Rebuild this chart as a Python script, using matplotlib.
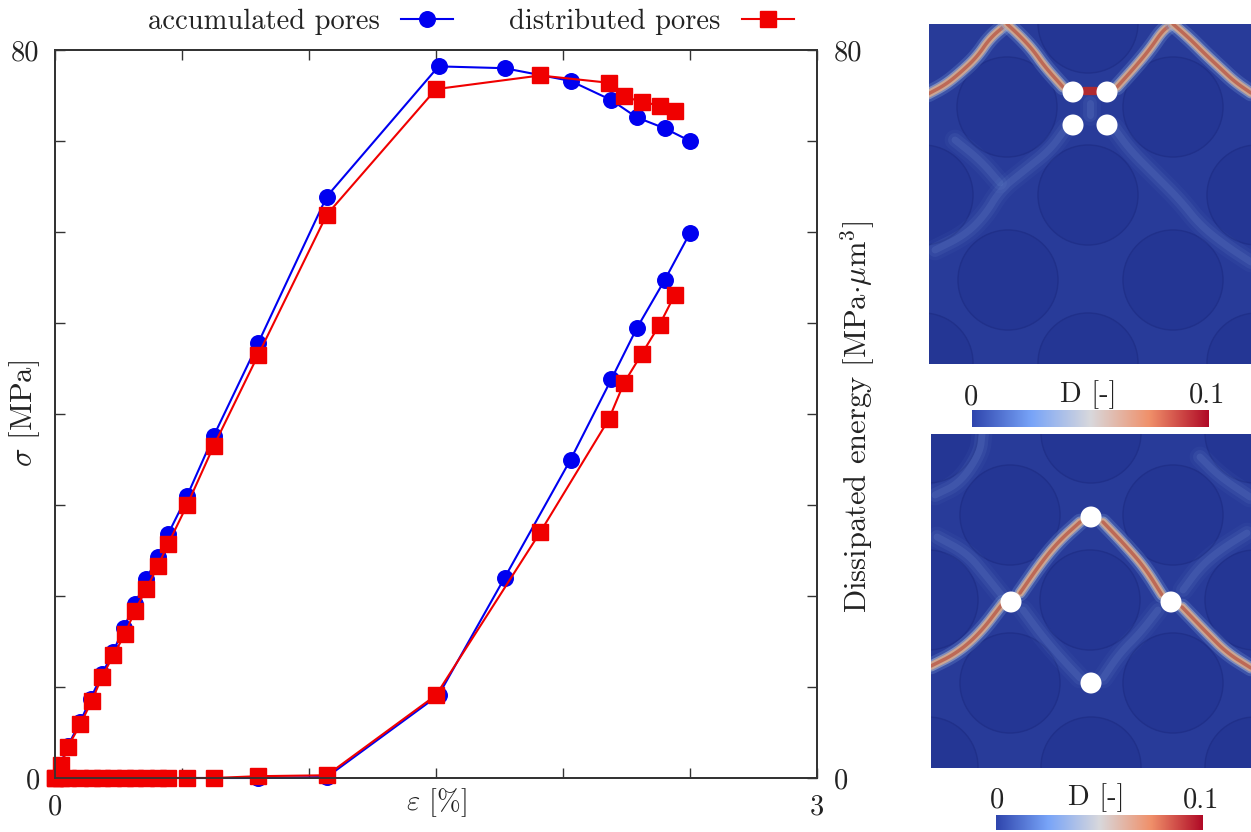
#!/usr/bin/env python3
"""Stress-strain and dissipated energy curves with two damage field maps."""

import matplotlib
matplotlib.use('Agg')
import matplotlib.pyplot as plt
import numpy as np
from matplotlib.colors import LinearSegmentedColormap
from matplotlib.patches import Circle

plt.rcParams['font.family'] = ['cmr10', 'DejaVu Serif']
plt.rcParams['mathtext.fontset'] = 'cm'
plt.rcParams['axes.unicode_minus'] = False
plt.rcParams['axes.formatter.use_mathtext'] = True

# stress curves, strain in %, stress in MPa
strain_acc = [0.0, 0.05, 0.10, 0.14, 0.185, 0.23, 0.27, 0.315, 0.36, 0.405, 0.445,
              0.52, 0.625, 0.80, 1.07, 1.51, 1.77, 2.03, 2.19, 2.29, 2.40, 2.50]
stress_acc = [0.0, 3.5, 6.2, 8.7, 11.4, 13.9, 16.5, 19.1, 21.9, 24.3, 26.8,
              31.0, 37.6, 47.8, 63.9, 78.2, 78.0, 76.6, 74.5, 72.6, 71.4, 70.0]
strain_dis = [0.0, 0.025, 0.05, 0.10, 0.145, 0.185, 0.23, 0.275, 0.315, 0.36, 0.405, 0.445,
              0.52, 0.625, 0.80, 1.07, 1.50, 1.91, 2.18, 2.24, 2.31, 2.38, 2.44]
stress_dis = [0.0, 1.4, 3.4, 5.9, 8.5, 11.1, 13.5, 15.8, 18.4, 20.8, 23.3, 25.7,
              30.0, 36.5, 46.5, 61.9, 75.7, 77.2, 76.4, 74.9, 74.3, 73.9, 73.3]

# dissipated energy curves
energy_strain_acc = [0.0, 0.05, 0.10, 0.14, 0.185, 0.23, 0.27, 0.315, 0.36, 0.405, 0.445,
                     0.52, 0.625, 0.80, 1.07, 1.51, 1.77, 2.03, 2.19, 2.29, 2.40, 2.50]
energy_acc = [0.0, 0.0, 0.0, 0.0, 0.0, 0.0, 0.0, 0.0, 0.0, 0.0, 0.0,
              0.0, 0.0, 0.0, 0.1, 9.1, 22.0, 35.0, 43.8, 49.4, 54.7, 59.9]
energy_strain_dis = [0.0, 0.025, 0.05, 0.10, 0.145, 0.185, 0.23, 0.275, 0.315, 0.36, 0.405, 0.445,
                     0.52, 0.625, 0.80, 1.07, 1.50, 1.91, 2.18, 2.24, 2.31, 2.38, 2.44]
energy_dis = [0.0, 0.0, 0.0, 0.0, 0.0, 0.0, 0.0, 0.0, 0.0, 0.0, 0.0, 0.0,
              0.0, 0.0, 0.2, 0.3, 9.1, 27.0, 39.4, 43.4, 46.6, 49.8, 53.1]

x_ticks = [0, 0.5, 1, 1.5, 2, 2.5, 3]
x_labels = ['0', '', '', '', '', '', '3']
y_ticks = [0, 10, 20, 30, 40, 50, 60, 70, 80]
y_labels = ['0', '', '', '', '', '', '', '', '80']

# damage maps are traced in figure pixels
top_grains = [(1007, 107), (1088, 195), (1173, 107), (1008, 280), (1173, 280), (923, 195),
              (1257, 195), (1088, 23), (1088, 363), (923, 363), (1257, 363)]
top_pores = [(1073, 92), (1107, 92), (1073, 125), (1107, 125)]
top_cracks = [
    [(928, 94), (945, 85), (960, 73), (977, 57), (990, 38), (1007, 24)],
    [(1007, 24), (1020, 36), (1033, 50), (1045, 67), (1063, 87)],
    [(1117, 87), (1135, 67), (1150, 49), (1163, 30), (1173, 24)],
    [(1173, 24), (1190, 39), (1205, 54), (1220, 68), (1235, 82), (1251, 93)],
]
top_gap = [(1084, 91), (1096, 91)]
top_bands = [
    [(1066, 128), (1050, 150), (1025, 170), (1000, 190), (985, 215), (965, 235), (935, 250)],
    [(1114, 128), (1130, 150), (1155, 175), (1180, 200), (1200, 225), (1225, 245), (1251, 262)],
    [(955, 140), (980, 160), (1000, 183)],
    [(1090, 115), (1090, 103)],
]
bot_grains = [(1010, 515), (1090, 600), (1173, 515), (1010, 683), (1173, 683), (928, 600), (1255, 600),
              (1091, 433), (1091, 767), (928, 767), (1255, 767), (928, 433), (1255, 433)]
bot_pores = [(1091, 517), (1011, 602), (1171, 602), (1091, 683)]
bot_cracks = [
    [(931, 666), (957, 653), (980, 633), (1003, 603)],
    [(1020, 593), (1043, 560), (1060, 540), (1080, 522)],
    [(1103, 522), (1125, 545), (1145, 568), (1162, 595)],
    [(1182, 607), (1207, 633), (1227, 653), (1251, 668)],
]
bot_bands = [
    [(1023, 610), (1043, 637), (1063, 660), (1080, 678)],
    [(1103, 678), (1120, 653), (1140, 633), (1158, 610)],
    [(937, 537), (967, 553), (987, 577), (1003, 597)],
    [(1183, 590), (1200, 567), (1220, 550), (1247, 533)],
    [(935, 495), (960, 483), (980, 453), (982, 434)],
    [(1200, 457), (1220, 477), (1250, 497)],
]

BLUE = '#0000f0'
RED = '#f00000'
GRAIN = '#243694'
MATRIX = '#283b99'
FIELD_CMAP = LinearSegmentedColormap.from_list(
    'damage', ['#2f45ad', '#78a4f8', '#d8d8dc', '#f0906a', '#b00a26'])


def px_axes(fig, x0, y0, x1, y1):
    """Axes whose data coordinates are the figure's pixels."""
    w, h = fig.canvas.get_width_height()
    ax = fig.add_axes([x0 / w, 1 - y1 / h, (x1 - x0) / w, (y1 - y0) / h])
    ax.set_xlim(x0, x1)
    ax.set_ylim(y1, y0)
    ax.axis('off')
    return ax


def smooth(path, rounds=3):
    """Corner cutting so traced polylines read as curves."""
    pts = np.array(path, dtype=float)
    for _ in range(rounds):
        a = 0.75 * pts[:-1] + 0.25 * pts[1:]
        b = 0.25 * pts[:-1] + 0.75 * pts[1:]
        mid = np.empty((a.shape[0] * 2, 2))
        mid[0::2] = a
        mid[1::2] = b
        pts = np.vstack([pts[0], mid, pts[-1]])
    return pts


def draw_path(ax, path, color, lw, alpha=1.0):
    pts = smooth(path)
    ax.plot(pts[:, 0], pts[:, 1], color=color, lw=lw, alpha=alpha,
            solid_capstyle='round', solid_joinstyle='round')


def draw_field(fig, box, grains, pores, cracks, bands):
    ax = px_axes(fig, *box)
    ax.add_patch(plt.Rectangle((box[0], box[1]), box[2] - box[0], box[3] - box[1], color=MATRIX, zorder=0))
    for c in grains:
        ax.add_patch(Circle(c, 50, facecolor=GRAIN, edgecolor='#20308a', lw=1.0, zorder=1))
    for band in bands:
        draw_path(ax, band, '#5f7fc8', 15, 0.08)
        draw_path(ax, band, '#6f8fd0', 10, 0.12)
        draw_path(ax, band, '#7f9fdc', 5, 0.15)
    for crack in cracks:
        draw_path(ax, crack, '#6f8fd0', 12, 0.30)
        draw_path(ax, crack, '#a8b0c8', 8, 0.60)
        draw_path(ax, crack, '#cfa892', 5.5, 0.95)
        draw_path(ax, crack, '#b8503c', 2.5, 0.70)
    for c in pores:
        ax.add_patch(Circle(c, 10.5, facecolor='white', edgecolor='none', zorder=5))
    return ax


def draw_colorbar(fig, box, labels):
    ax = px_axes(fig, *box)
    gradient = np.linspace(0, 1, 256).reshape(1, -1)
    ax.imshow(gradient, cmap=FIELD_CMAP, aspect='auto', extent=(box[0], box[2], box[3], box[1]))
    for x, y, s in labels:
        ax.text(x, y, s, fontsize=20.5, ha='center', va='center', color='#222222', clip_on=False)


def main():
    fig = plt.figure(figsize=(12.51, 8.32), dpi=100)
    w, h = fig.canvas.get_width_height()
    ax = fig.add_axes([55 / w, 1 - 778 / h, (817 - 55) / w, (778 - 50) / h])
    ax2 = ax.twinx()

    style = dict(lw=1.5, ms=11.2, clip_on=False)
    line_acc, = ax.plot(strain_acc, stress_acc, '-o', color=BLUE, mec=BLUE, zorder=3, **style)
    line_dis, = ax.plot(strain_dis, stress_dis, '-s', color=RED, mec=RED, zorder=4, **style)
    ax2.plot(energy_strain_acc, energy_acc, '-o', color=BLUE, mec=BLUE, zorder=3, **style)
    ax2.plot(energy_strain_dis, energy_dis, '-s', color=RED, mec=RED, zorder=4, **style)

    for a in (ax, ax2):
        a.set_xlim(0, 3)
        a.set_ylim(0, 80)
        a.set_yticks(y_ticks)
        a.set_yticklabels(y_labels, fontsize=20.5, color='#222222')
        a.tick_params(axis='both', direction='in', length=7.5, width=1.0, color='#333333')
        for spine in a.spines.values():
            spine.set_color('#333333')
            spine.set_linewidth(1.3)
    ax.set_xticks(x_ticks)
    ax.set_xticklabels(x_labels, fontsize=20.5, color='#222222')
    ax.tick_params(axis='x', top=True, pad=12)
    ax.tick_params(axis='y', pad=11)
    ax2.tick_params(axis='y', pad=12)
    # energy sits above the stress axes; the frame shows through the red flat run
    ax2.set_zorder(ax.get_zorder() + 1)
    ax2.spines['bottom'].set_zorder(10)
    ax2.spines['left'].set_zorder(10)

    ax.set_xlabel(r'$\varepsilon$ [%]', fontsize=20.5, color='#222222', labelpad=-25)
    ax.set_ylabel(r'$\sigma$ [MPa]', fontsize=22, color='#222222', labelpad=-22)
    ax2.set_ylabel(r'Dissipated energy [MPa$\cdot\mu$m$^3$]', fontsize=22, color='#222222')
    ax2.yaxis.set_label_coords(1.0275, 0.496)

    fig.legend([line_acc, line_dis], ['accumulated pores', 'distributed pores'],
               loc='center', bbox_to_anchor=(471 / w, 1 - 22 / h), ncol=2, frameon=False,
               markerfirst=False, numpoints=1, fontsize=20.5, handlelength=1.85,
               handletextpad=0.75, columnspacing=1.95, labelcolor='#222222')

    top_ax = draw_field(fig, (929, 24, 1251, 364), top_grains, top_pores, top_cracks, top_bands)
    draw_path(top_ax, top_gap, '#b02a30', 6)
    draw_field(fig, (931, 434, 1251, 768), bot_grains, bot_pores, bot_cracks, bot_bands)

    draw_colorbar(fig, (972, 410, 1209, 427), [(971, 397, '0'), (1088, 395, 'D [-]'), (1207, 395, '0.1')])
    draw_colorbar(fig, (996, 815, 1203, 830), [(997, 800, '0'), (1096, 798, 'D [-]'), (1201, 800, '0.1')])

    fig.savefig('out.png', dpi=100)


if __name__ == '__main__':
    main()
